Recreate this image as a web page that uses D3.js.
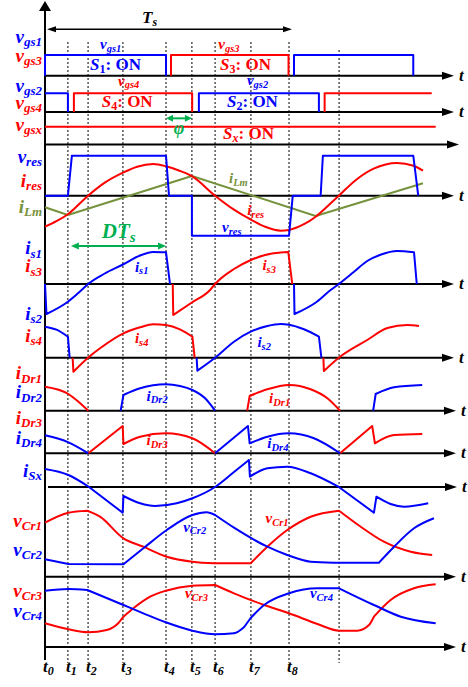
<!DOCTYPE html>
<html>
<head>
<meta charset="utf-8">
<script src="https://cdn.jsdelivr.net/npm/d3@7"></script>
<style>
  html, body { margin: 0; padding: 0; background: #fff; }
  svg { display: block; font-family: "Liberation Serif", "Times New Roman", serif; }
</style>
</head>
<body>
<svg id="chart" width="468" height="687"></svg>
<script>
// ---------------------------------------------------------------------------
// Time instants (μs, switching period Ts ≈ 10 μs)
// ---------------------------------------------------------------------------
const tMarks = [0, 0.92, 1.73, 3.13, 4.86, 5.90, 6.83, 8.27, 9.80];
const tMarkNames = ["0", "1", "2", "3", "4", "5", "6", "7", "8"];
const tNextHalf = 11.81;          // unlabelled instant, half a period after t6
const tsSpan = [0, 9.92];         // extent of the Ts arrow
const dtsSpan = [1.04, 4.86];     // extent of the D·Ts arrow
const phiSpan = [4.86, 5.90];     // phase shift φ between S1 and S4

// ---------------------------------------------------------------------------
// Waveforms: each is a list of pieces, each piece a list of [t, value]
// ---------------------------------------------------------------------------
// gate signals (1 = on)
const vgs1 = [[[0, 0], [0, 1], [4.86, 1], [4.86, 0]], [[10.0, 0], [10.0, 1], [14.79, 1], [14.79, 0]]];
const vgs3 = [[[5.06, 0], [5.06, 1], [9.78, 1], [9.78, 0]]];
const vgs2 = [[[0, 1], [0.92, 1], [0.92, 0]], [[6.18, 0], [6.18, 1], [11.0, 1], [11.0, 0]]];
const vgs4 = [[[1.16, 0], [1.16, 1], [5.91, 1], [5.91, 0]], [[11.23, 0], [11.23, 1], [15.53, 1]]];
const vgsx = [[[0, 1], [15.69, 1]]];

// resonant voltage / current and magnetising current
const vres = [[[0, 0], [0.92, 0], [1.08, 4], [4.86, 4], [4.98, 0], [5.90, 0], [5.90, -4], [9.80, -4],
               [9.95, 0], [11.07, 0], [11.16, 4], [14.79, 4], [14.99, 0]]];
const ires = [[[0, -3.1], [0.46, -2.55], [0.92, -1.85], [1.73, 0], [2.4, 1.3], [3.13, 2.3], [3.7, 2.9],
               [4.34, 3.17], [4.86, 2.95], [5.4, 2.5], [5.90, 1.95], [6.83, 0], [7.59, -1.4], [8.27, -2.4],
               [8.84, -3.1], [9.47, -3.5], [9.80, -3.42], [10.4, -2.85], [10.87, -2.1], [11.3, -1.15],
               [11.80, 0], [12.5, 1.6], [13.2, 2.7], [14.14, 3.27], [14.8, 3.0], [15.18, 2.5]]];
const iLm = [[[0, -1.16], [0.92, -1.93], [5.90, 1.97], [10.87, -2.03], [15.18, 1.24]]];

// switch currents
const is1 = [
  [[0, 0], [0.06, -3.0]],
  [[0.06, -3.0], [0.92, -1.77], [1.47, -0.6], [1.73, 0], [2.4, 1.05], [3.13, 1.95], [3.82, 2.85], [4.34, 3.2], [4.86, 3.17]],
  [[4.86, 3.17], [5.02, 0]],
  [[10.0, 0], [10.02, -3.0]],
  [[10.02, -3.0], [10.92, -1.77], [11.47, -0.6], [11.80, 0], [12.4, 1.2], [12.94, 2.3], [13.5, 2.95], [14.14, 3.3], [14.82, 3.17]],
  [[14.82, 3.17], [14.93, 0]]
];
const is3 = [
  [[5.13, 0], [5.15, -3.1]],
  [[5.15, -3.1], [5.90, -1.85], [6.63, -0.6], [6.83, 0], [7.59, 1.5], [8.27, 2.4], [8.84, 2.9], [9.47, 3.15], [9.77, 3.2]],
  [[9.77, 3.2], [9.93, 0]]
];
const is2 = [
  [[0, 3.1], [0.46, 2.8], [0.92, 2.1]],
  [[0.92, 2.1], [0.99, 0]],
  [[6.09, 0], [6.12, -1.3]],
  [[6.12, -1.3], [6.83, 0], [7.59, 1.6], [8.26, 2.6], [8.93, 3.17], [9.47, 3.37], [9.80, 3.3], [10.4, 2.84], [11.0, 2.1]],
  [[11.0, 2.1], [11.10, 0]]
];
const is4 = [
  [[1.11, 0], [1.14, -1.4]],
  [[1.14, -1.4], [1.73, 0], [2.21, 0.94], [3.15, 2.44], [3.82, 3.04], [4.35, 3.34], [4.85, 3.27], [5.42, 2.84], [5.92, 2.1]],
  [[5.92, 2.1], [6.01, 0]],
  [[11.18, 0], [11.20, -1.33]],
  [[11.20, -1.33], [11.80, 0], [12.94, 1.77], [13.75, 2.97], [14.55, 3.27], [15.02, 3.17]]
];

// rectifier diode currents
const iDr1 = [
  [[0, 2.4], [0.94, 1.67], [1.34, 0.9], [1.74, 0]],
  [[8.12, 0], [8.22, 1.47]],
  [[8.22, 1.47], [8.93, 2.14], [9.80, 2.57], [10.67, 2.14], [11.34, 1.24], [11.85, 0]]
];
const iDr2 = [
  [[3.04, 0], [3.15, 1.57]],
  [[3.15, 1.57], [3.82, 2.24], [4.85, 2.64], [5.42, 2.47], [5.92, 2.07], [6.43, 1.24], [6.83, 0]],
  [[13.18, 0], [13.28, 1.67]],
  [[13.28, 1.67], [14.02, 2.34], [15.15, 2.57]]
];
const iDr3 = [
  [[1.74, 0], [3.12, 2.73]],
  [[3.12, 2.73], [3.15, 0.93]],
  [[3.15, 0.93], [3.82, 1.66], [4.85, 2.0], [5.92, 1.5], [6.83, 0]],
  [[11.85, 0], [13.14, 2.73]],
  [[13.14, 2.73], [13.25, 1.0]],
  [[13.25, 1.0], [14.02, 1.83], [15.15, 1.93]]
];
const iDr4 = [
  [[0, 1.8], [0.94, 1.1], [1.74, 0]],
  [[6.83, 0], [8.15, 2.73]],
  [[8.15, 2.73], [8.22, 1.0]],
  [[8.22, 1.0], [8.93, 1.66], [9.80, 2.0], [10.8, 1.5], [11.85, 0]]
];

// auxiliary switch current
const iSx = [
  [[0, 1.8], [0.94, 1.2], [1.74, 0.05]],
  [[1.74, 0.05], [3.12, -2.57]],
  [[3.12, -2.57], [3.15, -0.9]],
  [[3.15, -0.9], [3.82, -1.63], [4.42, -1.9], [5.29, -1.63], [5.92, -1.13], [6.83, 0], [7.59, 1.5], [8.19, 2.7]],
  [[8.19, 2.7], [8.23, 1.03]],
  [[8.23, 1.03], [8.93, 1.87], [9.73, 2.03], [10.67, 1.37], [11.80, 0]],
  [[11.80, 0], [13.21, -2.57]],
  [[13.21, -2.57], [13.31, -0.97]],
  [[13.31, -0.97], [13.88, -1.7], [14.42, -1.97], [15.39, -1.63]]
];

// resonant capacitor voltages
const vCr1 = [
  [[0, 5.4], [0.94, 6.4], [1.70, 6.6]],
  [[1.70, 6.6], [2.21, 6.0], [3.15, 3.84], [3.95, 3.0], [4.89, 2.0], [5.92, 1.5], [6.83, 1.34]],
  [[6.83, 1.34], [8.26, 1.34]],
  [[8.26, 1.34], [8.93, 3.0], [9.73, 4.67], [10.67, 6.0], [11.81, 6.6]],
  [[11.81, 6.6], [12.68, 5.0], [13.61, 3.5], [14.69, 2.5], [15.55, 2.17]]
];
const vCr2 = [
  [[0, 1.74], [0.94, 1.27]],
  [[0.94, 1.27], [3.15, 1.24]],
  [[3.15, 1.24], [3.95, 2.84], [4.89, 4.67], [5.92, 6.17], [6.49, 6.44], [6.83, 6.17]],
  [[6.83, 6.17], [7.59, 4.9], [8.93, 3.0], [9.73, 2.17], [10.67, 1.5], [11.61, 1.4]],
  [[11.61, 1.4], [13.41, 1.4]],
  [[13.41, 1.4], [14.02, 3.0], [14.82, 4.84], [15.62, 5.84]]
];
const vCr3 = [
  [[0, 2.37], [0.94, 1.77], [1.74, 1.47], [2.48, 1.7], [2.94, 2.37], [3.15, 3.03]],
  [[3.15, 3.03], [3.55, 3.87], [4.22, 5.03], [4.85, 5.63], [5.92, 6.13], [6.83, 6.2]],
  [[6.83, 6.2], [7.59, 5.37], [8.80, 4.2], [9.80, 3.37], [10.94, 2.3], [11.81, 1.63], [12.54, 1.63], [13.01, 2.2], [13.21, 3.03]],
  [[13.21, 3.03], [13.88, 4.7], [14.82, 5.87], [15.69, 6.27]]
];
const vCr4 = [
  [[0, 5.63], [0.94, 5.8], [1.70, 5.7]],
  [[1.70, 5.7], [3.15, 4.2], [3.95, 3.37], [4.85, 2.47], [5.92, 1.63], [6.83, 1.27], [7.59, 1.37], [8.0, 2.0]],
  [[8.0, 2.0], [8.26, 2.9]],
  [[8.26, 2.9], [8.80, 4.2], [9.80, 5.37], [10.94, 5.87], [11.81, 5.87]],
  [[11.81, 5.87], [13.21, 4.2], [14.29, 3.03], [15.69, 2.37]]
];

// ---------------------------------------------------------------------------
// Layout
// ---------------------------------------------------------------------------
const BLUE = "#0000ff", RED = "#ff0000", OLIVE = "#76923c", GREEN = "#00b050";
const FONT_W = "bold", FONT_S = "italic";

const x = d3.scaleLinear().domain([0, 10]).range([45, 294]);

// one panel per row: baseline pixel, pixels per unit, axis line start/end, "t" label
const rows = {
  r1:  { base: 75.7,  unit: 20.7, x0: 45, x1: 454, t: true },
  r2:  { base: 112,   unit: 18.7, x0: 45, x1: 454, t: true },
  r3:  { base: 144.5, unit: 17.8, x0: 45, x1: 459, t: false },
  r4:  { base: 195.7, unit: 10,   x0: 45, x1: 454, t: true },
  r5:  { base: 284,   unit: 10,   x0: 45, x1: 454, t: true },
  r6:  { base: 357.7, unit: 10,   x0: 45, x1: 454, t: true },
  r7:  { base: 410.7, unit: 10,   x0: 45, x1: 456, t: true },
  r8:  { base: 453.3, unit: 10,   x0: 45, x1: 456, t: true },
  r9:  { base: 487,   unit: 10,   x0: 48, x1: 457, t: true },
  r10: { base: 576.7, unit: 10,   x0: 45, x1: 456, t: true },
  r11: { base: 647,   unit: 10,   x0: 45, x1: 456, t: true }
};
Object.values(rows).forEach(r => {
  r.y = d3.scaleLinear().domain([0, 1]).range([r.base, r.base - r.unit]);
});

const svg = d3.select("#chart");

// arrowhead helper (tip at (tx,ty), pointing along direction dir: "r","l","u")
function arrowHead(g, tx, ty, dir, len, half, color) {
  let pts;
  if (dir === "r") pts = [[tx, ty], [tx - len, ty - half], [tx - len, ty + half]];
  else if (dir === "l") pts = [[tx, ty], [tx + len, ty - half], [tx + len, ty + half]];
  else pts = [[tx, ty], [tx - half, ty + len], [tx + half, ty + len]];
  g.append("path").attr("d", "M" + pts.map(p => p.join(",")).join("L") + "Z").attr("fill", color);
}

// ---- vertical dotted instants ------------------------------------------------
const grid = svg.append("g");
tMarks.slice(1).forEach(t => {
  grid.append("line").attr("x1", x(t)).attr("x2", x(t)).attr("y1", 42).attr("y2", 663)
    .attr("stroke", "#000").attr("stroke-width", 1).attr("stroke-dasharray", "2,2");
});
grid.append("line").attr("x1", x(tNextHalf)).attr("x2", x(tNextHalf)).attr("y1", 50).attr("y2", 663)
  .attr("stroke", "#000").attr("stroke-width", 1).attr("stroke-dasharray", "2,2");

// ---- row axes ----------------------------------------------------------------
const axes = svg.append("g");
Object.values(rows).forEach(r => {
  axes.append("line").attr("x1", r.x0).attr("x2", r.x1 - 8).attr("y1", r.base).attr("y2", r.base)
    .attr("stroke", "#000").attr("stroke-width", 2);
  arrowHead(axes, r.x1, r.base, "r", 12, 4, "#000");
  if (r.t) {
    axes.append("text").attr("x", r.x1 + 5).attr("y", r.base + 5)
      .attr("font-size", 17).attr("font-style", FONT_S).attr("font-weight", FONT_W).text("t");
  }
});
// vertical axis
axes.append("line").attr("x1", x(0)).attr("x2", x(0)).attr("y1", 9).attr("y2", 660)
  .attr("stroke", "#000").attr("stroke-width", 2);
arrowHead(axes, x(0), 1, "u", 10, 6, "#000");

// ---- waveforms ---------------------------------------------------------------
function pathFor(pieces, yS, curve) {
  const gen = d3.line().x(d => x(d[0])).y(d => yS(d[1])).curve(curve);
  let out = "", last = null;
  pieces.forEach(p => {
    let s = gen(p);
    if (last && last[0] === p[0][0] && last[1] === p[0][1]) s = "L" + s.slice(1);
    out += s;
    last = p[p.length - 1];
  });
  return out;
}

const traces = [
  { d: vgs1, row: "r1", c: BLUE, lin: true },
  { d: vgs3, row: "r1", c: RED, lin: true },
  { d: vgs2, row: "r2", c: BLUE, lin: true },
  { d: vgs4, row: "r2", c: RED, lin: true },
  { d: vgsx, row: "r3", c: RED, lin: true },
  { d: iLm,  row: "r4", c: OLIVE, lin: true },
  { d: ires, row: "r4", c: RED },
  { d: vres, row: "r4", c: BLUE, lin: true },
  { d: is1,  row: "r5", c: BLUE },
  { d: is3,  row: "r5", c: RED },
  { d: is2,  row: "r6", c: BLUE },
  { d: is4,  row: "r6", c: RED },
  { d: iDr1, row: "r7", c: RED },
  { d: iDr2, row: "r7", c: BLUE },
  { d: iDr3, row: "r8", c: RED },
  { d: iDr4, row: "r8", c: BLUE },
  { d: iSx,  row: "r9", c: BLUE },
  { d: vCr1, row: "r10", c: RED },
  { d: vCr2, row: "r10", c: BLUE },
  { d: vCr3, row: "r11", c: RED },
  { d: vCr4, row: "r11", c: BLUE }
];
const waves = svg.append("g");
traces.forEach(tr => {
  waves.append("path")
    .attr("d", pathFor(tr.d, rows[tr.row].y, tr.lin ? d3.curveLinear : d3.curveMonotoneX))
    .attr("fill", "none").attr("stroke", tr.c).attr("stroke-width", 2)
    .attr("stroke-linejoin", "round").attr("stroke-linecap", "butt");
});

// ---- labels ------------------------------------------------------------------
function subLabel(g, px, py, main, sub, color, size, subSize, anchor) {
  const t = g.append("text").attr("x", px).attr("y", py).attr("fill", color)
    .attr("font-style", FONT_S).attr("font-weight", FONT_W).attr("text-anchor", anchor || "start");
  t.append("tspan").attr("font-size", size).text(main);
  t.append("tspan").attr("font-size", subSize).attr("dy", size * 0.18).text(sub);
  return t;
}

const labels = svg.append("g");

// left-hand signal names
const leftNames = [
  ["v", "gs1", BLUE, 42.5], ["v", "gs3", RED, 61.7], ["v", "gs2", BLUE, 91.7], ["v", "gs4", RED, 109],
  ["v", "gsx", RED, 131], ["v", "res", BLUE, 162.5], ["i", "res", RED, 186.5], ["i", "Lm", OLIVE, 212.5],
  ["i", "s1", BLUE, 254.3], ["i", "s3", RED, 272.3], ["i", "s2", BLUE, 320], ["i", "s4", RED, 342],
  ["i", "Dr1", RED, 379.3], ["i", "Dr2", BLUE, 398.3], ["i", "Dr3", RED, 424], ["i", "Dr4", BLUE, 444],
  ["i", "Sx", BLUE, 476.7], ["v", "Cr1", RED, 526.5], ["v", "Cr2", BLUE, 556], ["v", "Cr3", RED, 597],
  ["v", "Cr4", BLUE, 617]
];
leftNames.forEach(([m, s, c, py]) => subLabel(labels, 42, py, m, s, c, 19, 13, "end"));

// names written next to the traces: [main, sub, colour, row, t, value]
const traceNames = [
  ["v", "gs1", BLUE, "r1", 2.21, 1.29], ["v", "gs3", RED, "r1", 6.96, 1.29],
  ["v", "gs4", RED, "r2", 2.93, 1.41], ["v", "gs2", BLUE, "r2", 8.11, 1.44],
  ["i", "Lm", OLIVE, "r4", 7.39, 1.27], ["i", "res", RED, "r4", 8.12, -1.93], ["v", "res", BLUE, "r4", 7.11, -3.63],
  ["i", "s1", BLUE, "r5", 3.61, 1.23], ["i", "s3", RED, "r5", 8.73, 1.4],
  ["i", "s4", RED, "r6", 3.61, 1.44], ["i", "s2", BLUE, "r6", 8.53, 1.04],
  ["i", "Dr2", BLUE, "r7", 4.08, 1.0], ["i", "Dr1", RED, "r7", 9.0, 0.74],
  ["i", "Dr3", RED, "r8", 4.08, 0.83], ["i", "Dr4", BLUE, "r8", 8.93, 0.5],
  ["v", "Cr2", BLUE, "r10", 5.55, 4.5], ["v", "Cr1", RED, "r10", 8.86, 5.34],
  ["v", "Cr3", RED, "r11", 5.62, 4.87], ["v", "Cr4", BLUE, "r11", 10.64, 4.87]
];
traceNames.forEach(([m, s, c, row, t, v]) => subLabel(labels, x(t), rows[row].y(v), m, s, c, 15, 10.5));

// switch states: [switch index, colour, row, t, value]
const onStates = [["1", BLUE, "r1", 1.81, 0.27], ["3", RED, "r1", 7.03, 0.27],
                  ["4", RED, "r2", 2.28, 0.28], ["2", BLUE, "r2", 7.31, 0.28],
                  ["x", RED, "r3", 7.15, 0.29]];
onStates.forEach(([s, c, row, t, v]) => {
  const tx = labels.append("text").attr("x", x(t)).attr("y", rows[row].y(v)).attr("fill", c)
    .attr("font-weight", "bold");
  tx.append("tspan").attr("font-size", 17).attr("font-style", "italic").text("S");
  tx.append("tspan").attr("font-size", 12).attr("dy", 3).attr("font-style", s === "x" ? "italic" : "normal").text(s);
  tx.append("tspan").attr("font-size", 17).attr("dy", -3).text(": ON");
});

// bottom instants t0 … t8
tMarks.forEach((t, i) => subLabel(labels, x(t) - 2, 672, "t", tMarkNames[i], "#000", 17, 12));

// Ts arrow
const ann = svg.append("g");
const tsY = 29.3;
ann.append("line").attr("x1", x(tsSpan[0]) + 6).attr("x2", x(tsSpan[1]) - 6).attr("y1", tsY).attr("y2", tsY)
  .attr("stroke", "#000").attr("stroke-width", 1.5);
arrowHead(ann, x(tsSpan[0]) + 2, tsY, "l", 9, 3, "#000");
arrowHead(ann, x(tsSpan[1]), tsY, "r", 9, 3, "#000");
subLabel(ann, x(3.9), 23, "T", "s", "#000", 17, 12);

// φ arrow
const phiY = rows.r3.y(1.47);
ann.append("line").attr("x1", x(phiSpan[0]) + 5).attr("x2", x(phiSpan[1]) - 5).attr("y1", phiY).attr("y2", phiY)
  .attr("stroke", GREEN).attr("stroke-width", 2);
arrowHead(ann, x(phiSpan[0]), phiY, "l", 7, 3.5, GREEN);
arrowHead(ann, x(phiSpan[1]), phiY, "r", 7, 3.5, GREEN);
ann.append("text").attr("x", x((phiSpan[0] + phiSpan[1]) / 2)).attr("y", rows.r3.y(0.6))
  .attr("text-anchor", "middle").attr("fill", GREEN).attr("font-size", 18)
  .attr("font-style", FONT_S).attr("font-weight", FONT_W).text("φ");

// D·Ts arrow
const dtY = rows.r5.y(3.8);
ann.append("line").attr("x1", x(dtsSpan[0]) + 5).attr("x2", x(dtsSpan[1]) - 5).attr("y1", dtY).attr("y2", dtY)
  .attr("stroke", GREEN).attr("stroke-width", 2);
arrowHead(ann, x(dtsSpan[0]), dtY, "l", 8, 3.5, GREEN);
arrowHead(ann, x(dtsSpan[1]), dtY, "r", 8, 3.5, GREEN);
subLabel(ann, x(2.28), rows.r5.y(4.57), "DT", "s", GREEN, 21, 15);
</script>
</body>
</html>
